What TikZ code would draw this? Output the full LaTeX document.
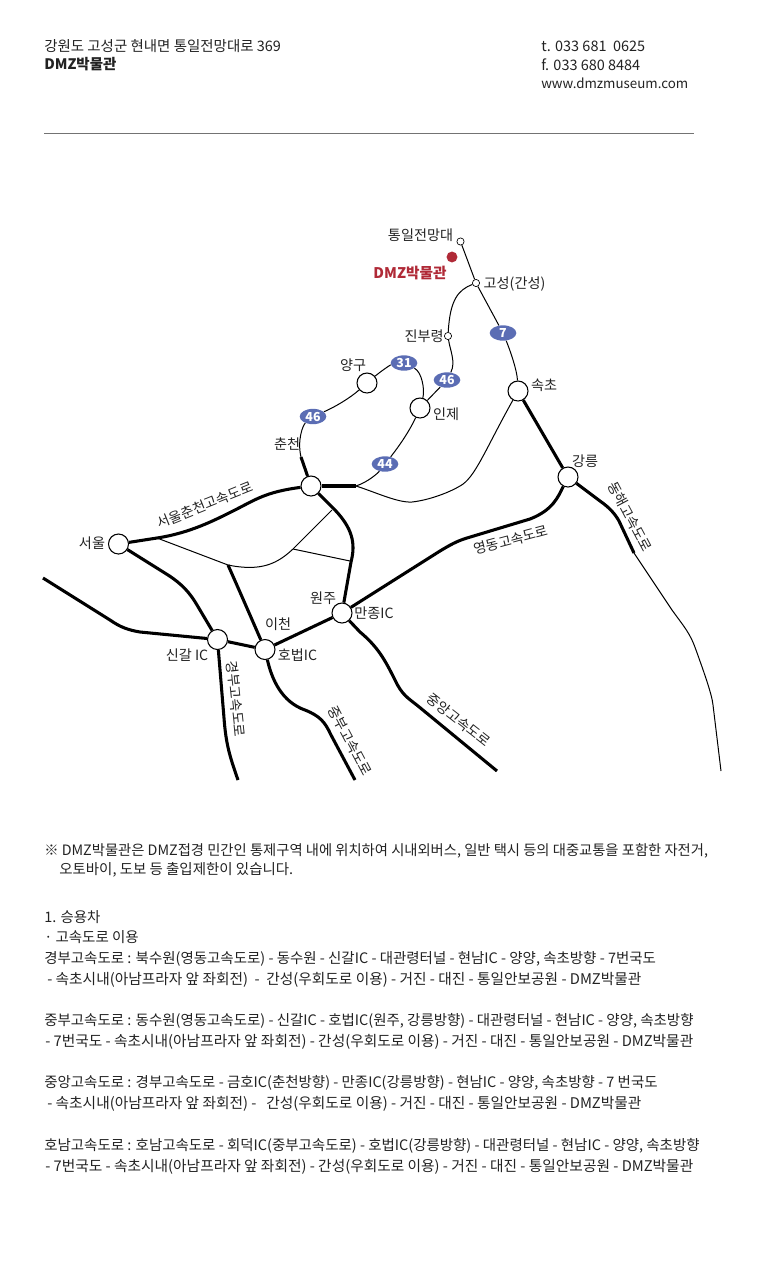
\documentclass[tikz,border=0pt]{standalone}
\usepackage{fontspec}
\setmainfont{Noto Sans CJK KR}
\usepackage{tikz}
\usetikzlibrary{shapes.geometric,backgrounds}
\definecolor{badgeblue}{HTML}{5B6DB4}
\definecolor{museumred}{HTML}{B02A37}
\definecolor{inkgray}{HTML}{222222}
\tikzstyle{city}=[circle, draw=black, fill=white, line width=0.8pt, minimum size=15pt, inner sep=0pt]
\tikzstyle{tiny}=[circle, draw=black, fill=white, line width=0.5pt, minimum size=5.4pt, inner sep=0pt]
\tikzstyle{badge}=[ellipse, fill=badgeblue, text=white, minimum width=20pt, minimum height=11.5pt, inner sep=0pt, font=\fontsize{9.3}{10}\selectfont\bfseries]
\tikzstyle{place}=[inner sep=0pt, text=inkgray, font=\fontsize{10.6}{12}\selectfont]
\tikzstyle{road}=[place, font=\fontsize{10.4}{12}\selectfont]
\tikzstyle{body}=[inner sep=0pt, anchor=west, text=inkgray, font=\fontsize{10.85}{13}\selectfont]
\tikzstyle{bodywide}=[body, font=\fontsize{11.03}{13}\selectfont]
\tikzstyle{thickroad}=[line width=2.3pt, black]
\tikzstyle{thinroad}=[line width=0.75pt, black]
\begin{document}
\begin{tikzpicture}[x=0.75pt,y=-0.75pt]
\useasboundingbox (0,0) rectangle (758,1264);
\node[body] (addr) at (44,46.5){강원도 고성군 현내면 통일전망대로 369};
\node[body, font=\fontsize{10.85}{13}\selectfont\bfseries] (name) at (44,64.5){DMZ박물관};
\node[body] (tel) at (541,46.5){t. 033 681~~0625};
\node[body] (fax) at (541,64.5){f. 033 680 8484};
\node[body, font=\fontsize{10}{13}\selectfont] (web) at (541,83.5){www.dmzmuseum.com};
\coordinate (ruleL) at (44,133);
\coordinate (ruleR) at (694,133);
\draw[line width=0.75pt, black!55] (ruleL) -- (ruleR);

\node[tiny] (Tongil) at (460.5,241.5){};
\node[circle, fill=museumred, minimum size=8.2pt, inner sep=0pt] (Museum) at (452,257){};
\node[tiny] (Goseong) at (476,283){};
\node[tiny] (Jinbu) at (448,336){};
\node[city] (Sokcho) at (518,391){};
\node[city] (Yanggu) at (367,383){};
\node[city] (Inje) at (420,408){};
\node[city] (Chuncheon) at (311,486){};
\node[city] (Gangneung) at (568,477){};
\node[city] (Seoul) at (118.5,544){};
\node[city] (Wonju) at (342,613){};
\node[city] (Singal) at (217.5,639.5){};
\node[city] (Hobeop) at (265,649.5){};
\node[badge] (R7) at (503,333){7};
\node[badge] (R31) at (404,363){31};
\node[badge] (R46a) at (447,380){46};
\node[badge] (R46b) at (313,416.5){46};
\node[badge] (R44) at (385,464){44};

\coordinate (J1) at (356,486);
\coordinate (J2) at (332,510);
\coordinate (J3) at (293,549);
\coordinate (J4) at (350,561);
\coordinate (J5) at (157,538);
\coordinate (J6) at (228,565);
\coordinate (J7) at (301,457);
\coordinate (J8) at (634,553);
\coordinate (West) at (43,578);
\coordinate (EndGyeongbu) at (238,780);
\coordinate (EndJungbu) at (355,780);
\coordinate (EndJungang) at (497,771);
\coordinate (EndDonghae) at (721,771);

\begin{pgfonlayer}{background}
\draw[thinroad] (Tongil) -- (Goseong) -- (R7);
\draw[thinroad] (R7) .. controls (510,350) and (517,370) .. (Sokcho);
\draw[thinroad] (Goseong) .. controls (458,290) and (450,300) .. (Jinbu);
\draw[thinroad] (Jinbu) .. controls (450,350) and (456,362) .. (R46a);
\draw[thinroad] (R46a) -- (Inje);
\draw[thinroad] (Inje) .. controls (425,390) and (422,372) .. (R31);
\draw[thinroad] (R31) .. controls (390,365) and (380,372) .. (Yanggu);
\draw[thinroad] (Yanggu) .. controls (350,398) and (335,407) .. (R46b);
\draw[thinroad] (R46b) .. controls (303,425) and (297,440) .. (J7);
\draw[thickroad] (J7) -- (Chuncheon);
\draw[thinroad] (Inje) .. controls (410,430) and (400,445) .. (R44);
\draw[thinroad] (R44) .. controls (378,473) and (368,482) .. (J1);
\draw[thickroad] (Chuncheon) -- (J1);
\draw[thinroad] (J1) .. controls (375,492) and (398,503) .. (412,502) .. controls (430,500) and (450,492) .. (460,486) .. controls (475,478) and (485,450) .. (Sokcho);
\draw[thickroad] (Sokcho) -- (Gangneung);
\draw[thickroad] (Gangneung) -- (600,501) .. controls (610,508) and (615,514) .. (619,521) -- (J8);
\draw[thinroad] (J8) -- (672,610) .. controls (685,628) and (690,633) .. (696,650) .. controls (705,675) and (712,695) .. (713,705) -- (EndDonghae);
\draw[thickroad] (Gangneung) .. controls (558,497) and (553,510) .. (530,519) -- (467,538) .. controls (457,541) and (450,545) .. (440,551) -- (Wonju);
\draw[thickroad] (Wonju) -- (360,632) .. controls (378,647) and (385,660) .. (395,680) .. controls (402,695) and (408,698) .. (418,706) -- (EndJungang);
\draw[thickroad] (Chuncheon) -- (335,510) .. controls (352,528) and (356,543) .. (351,562) -- (Wonju);
\draw[thinroad] (J2) -- (J3) .. controls (278,563) and (262,572) .. (J6) -- (J5);
\draw[thinroad] (J3) -- (J4);
\draw[thickroad] (J6) .. controls (240,592) and (250,615) .. (Hobeop);
\draw[thickroad] (Seoul) -- (J5) .. controls (190,533) and (215,520) .. (233,511) .. controls (255,500) and (265,492) .. (Chuncheon);
\draw[thickroad] (Seoul) -- (168,575) .. controls (182,584) and (190,593) .. (197,605) -- (Singal);
\draw[thickroad] (West) -- (110,620) .. controls (120,627) and (128,630) .. (140,632) -- (Singal);
\draw[thickroad] (Singal) -- (Hobeop) -- (Wonju);
\draw[thickroad] (Singal) -- (224,718) .. controls (226,745) and (230,757) .. (EndGyeongbu);
\draw[thickroad] (Hobeop) .. controls (272,680) and (282,702) .. (305,710) .. controls (320,716) and (325,722) .. (331,735) -- (EndJungbu);
\end{pgfonlayer}

\node[place] (lTongil) at (420.5,235){통일전망대};
\node[place, text=museumred, font=\fontsize{11}{12}\selectfont\bfseries] (lMuseum) at (410,273.5){DMZ박물관};
\node[place] (lGoseong) at (514.5,284.5){고성(간성)};
\node[place] (lJinbu) at (424,336.5){진부령};
\node[place] (lYanggu) at (353,365.5){양구};
\node[place] (lSokcho) at (544,385.5){속초};
\node[place] (lInje) at (446,414.5){인제};
\node[place] (lChuncheon) at (287,444.5){춘천};
\node[place] (lGangneung) at (585,461.5){강릉};
\node[place] (lSeoul) at (92,543.5){서울};
\node[place] (lWonju) at (323,598.5){원주};
\node[place] (lManjong) at (374,613.5){만종IC};
\node[place] (lIcheon) at (278,624.5){이천};
\node[place] (lHobeop) at (297.5,655.5){호법IC};
\node[place] (lSingal) at (187,655.5){신갈 IC};
\node[road, rotate=22] (rSeoulChun) at (205,505){서울춘천고속도로};
\node[road, rotate=15] (rYeongdong) at (511,540){영동고속도로};
\node[road, rotate=-62] (rDonghae) at (630,517){동해고속도로};
\node[road, rotate=-84] (rGyeongbu) at (236,699){경부고속도로};
\node[road, rotate=-62] (rJungbu) at (350,741){중부고속도로};
\node[road, rotate=-38] (rJungang) at (459,720){중앙고속도로};

\node[body, font=\fontsize{10.73}{13}\selectfont] (note1) at (44,850.5){※ DMZ박물관은 DMZ접경 민간인 통제구역 내에 위치하여 시내외버스, 일반 택시 등의 대중교통을 포함한 자전거,};
\node[body] (note2) at (59,869.5){오토바이, 도보 등 출입제한이 있습니다.};
\node[body] (car) at (44,917.5){1. 승용차};
\node[body] (high) at (44,937.5){· 고속도로 이용};
\node[body] (gb1) at (44,958.5){경부고속도로 : 북수원(영동고속도로) - 동수원 - 신갈IC - 대관령터널 - 현남IC - 양양, 속초방향 - 7번국도};
\node[bodywide] (gb2) at (47,979.5){- 속초시내(아남프라자 앞 좌회전)~~-~~간성(우회도로 이용) - 거진 - 대진 - 통일안보공원 - DMZ박물관};
\node[body] (jb1) at (44,1020.5){중부고속도로 : 동수원(영동고속도로) - 신갈IC - 호법IC(원주, 강릉방향) - 대관령터널 - 현남IC - 양양, 속초방향};
\node[bodywide] (jb2) at (45,1041.5){- 7번국도 - 속초시내(아남프라자 앞 좌회전) - 간성(우회도로 이용) - 거진 - 대진 - 통일안보공원 - DMZ박물관};
\node[body] (ja1) at (44,1082.5){중앙고속도로 : 경부고속도로 - 금호IC(춘천방향) - 만종IC(강릉방향) - 현남IC - 양양, 속초방향 - 7 번국도};
\node[bodywide] (ja2) at (47,1103.5){- 속초시내(아남프라자 앞 좌회전) -~~~간성(우회도로 이용) - 거진 - 대진 - 통일안보공원 - DMZ박물관};
\node[body] (hn1) at (44,1145.5){호남고속도로 : 호남고속도로 - 회덕IC(중부고속도로) - 호법IC(강릉방향) - 대관령터널 - 현남IC - 양양, 속초방향};
\node[bodywide] (hn2) at (45,1166.5){- 7번국도 - 속초시내(아남프라자 앞 좌회전) - 간성(우회도로 이용) - 거진 - 대진 - 통일안보공원 - DMZ박물관};
\end{tikzpicture}
\end{document}
